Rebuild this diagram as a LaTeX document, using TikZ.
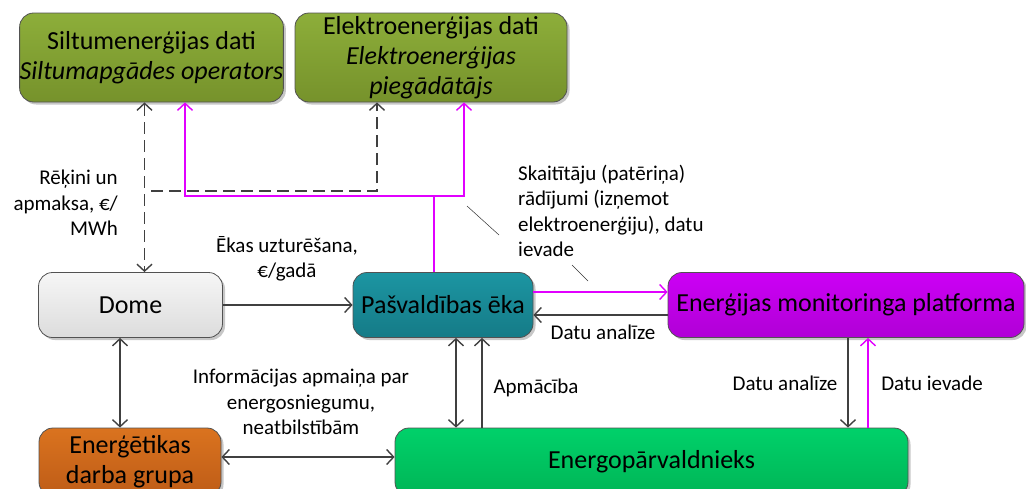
\documentclass[tikz,border=0pt]{standalone}
\usepackage{fontspec}
\setmainfont{Carlito}
\usetikzlibrary{arrows.meta,shadows}

\definecolor{olivetop}{HTML}{8DAE3A}
\definecolor{olivebot}{HTML}{76922B}
\definecolor{grytop}{HTML}{F6F6F6}
\definecolor{grybot}{HTML}{DCDCDC}
\definecolor{tealtop}{HTML}{1C95A2}
\definecolor{tealbot}{HTML}{157B87}
\definecolor{magtop}{HTML}{CC00F5}
\definecolor{magbot}{HTML}{B000D6}
\definecolor{orgtop}{HTML}{DA731F}
\definecolor{orgbot}{HTML}{BE5C17}
\definecolor{grntop}{HTML}{00D16A}
\definecolor{grnbot}{HTML}{00B556}
\definecolor{edgegray}{HTML}{404040}
\definecolor{magline}{HTML}{E100FF}

\tikzset{vtip/.tip={Straight Barb[length=7pt,width=15pt,line width=1.4pt]}}

\begin{document}
\begin{tikzpicture}[x=1pt,y=-1pt,
  box/.style={rounded corners=14pt, draw=black!68, line width=0.8pt,
    minimum width=#1, inner sep=0pt, align=center,
    font=\fontsize{26}{30}\selectfont,
    drop shadow={shadow xshift=2.5pt, shadow yshift=-2.5pt, opacity=0.22, fill=black}},
  garr/.style={draw=edgegray, line width=1.5pt, -vtip},
  gdbl/.style={draw=edgegray, line width=1.5pt, vtip-vtip},
  marr/.style={draw=magline, line width=1.5pt, -vtip},
  dasharr/.style={draw=edgegray, line width=1.5pt, dash pattern=on 12pt off 6pt},
  lbl/.style={font=\fontsize{21}{25.5}\selectfont, inner sep=0pt, text=black},
  leader/.style={draw=black!80, line width=0.5pt}
]
\useasboundingbox (0,0) rectangle (1026,488);

% boxes
\node[box=259pt, minimum height=89pt, top color=olivetop, bottom color=olivebot] (silt) at (151.5,57.5)
  {Siltumenerģijas dati\\\textit{Siltumapgādes operators}};
\node[box=272pt, minimum height=89pt, top color=olivetop, bottom color=olivebot] (elek) at (431,57.5)
  {Elektroenerģijas dati\\\textit{Elektroenerģijas}\\\textit{piegādātājs}};
\node[box=184pt, minimum height=65pt, top color=grytop, bottom color=grybot] (dome) at (130.5,305) {Dome};
\node[box=180pt, minimum height=65pt, top color=tealtop, bottom color=tealbot] (pasv) at (443,305) {Pašvaldības ēka};
\node[box=356pt, minimum height=65pt, top color=magtop, bottom color=magbot] (mon) at (846,305)
  {Enerģijas monitoringa platforma};
\node[box=182pt, minimum height=68pt, top color=orgtop, bottom color=orgbot] (grupa) at (130,462)
  {Enerģētikas\\darba grupa};
\node[box=513pt, minimum height=68pt, top color=grntop, bottom color=grnbot] (energo) at (651.5,462)
  {Energopārvaldnieks};

% invoices and payments (dashed)
\draw[dasharr, vtip-vtip] ([xshift=-7pt]silt.south) -- ([xshift=14pt]dome.north);
\coordinate (dstart) at (151,191);
\draw[dasharr, -vtip] (dstart) -| ([xshift=-54pt]elek.south);

% meter readings (magenta)
\coordinate (mjoin) at (434,196);
\draw[marr] ([xshift=-9pt]pasv.north) -- (mjoin) -| ([xshift=33pt]elek.south);
\draw[marr] (mjoin) -| ([xshift=33.5pt]silt.south);

% horizontal flows
\draw[garr] (dome.east) -- (pasv.west);
\draw[marr] ([yshift=13pt]pasv.east) -- ([yshift=13pt]mon.west);
\draw[garr] ([yshift=-10pt]mon.west) -- ([yshift=-10pt]pasv.east);
\draw[gdbl] ([xshift=-10.5pt]dome.south) -- ([xshift=-10pt]grupa.north);
\draw[gdbl] ([yshift=5pt]grupa.east) -- ([yshift=5pt]energo.west);

% vertical flows
\draw[gdbl] ([xshift=13pt]pasv.south) -- ([xshift=-195.5pt]energo.north);
\draw[garr] ([xshift=-169.5pt]energo.north) -- ([xshift=39pt]pasv.south);
\draw[garr] ([xshift=2pt]mon.south) -- ([xshift=196.5pt]energo.north);
\draw[marr] ([xshift=216.5pt]energo.north) -- ([xshift=22pt]mon.south);

% labels
\node[lbl, align=right, anchor=east] (lrek) at (118,203)
  {Rēķini un\\apmaksa, €/\\MWh};
\node[lbl, align=center] (leka) at (287,259) {Ēkas uzturēšana,\\€/gadā};
\node[lbl, align=left, anchor=west] (lskait) at (518,211)
  {Skaitītāju (patēriņa)\\rādījumi (izņemot\\elektroenerģiju), datu\\ievade};
\coordinate (la1) at (467,206);
\coordinate (la2) at (499,235);
\coordinate (lb1) at (572,265);
\coordinate (lb2) at (588,281);
\draw[leader] (la1) -- (la2);
\draw[leader] (lb1) -- (lb2);
\node[lbl] (lan1) at (603,332) {Datu analīze};
\node[lbl, align=center] (linfo) at (301,402)
  {Informācijas apmaiņa par\\energosniegumu,\\neatbilstībām};
\node[lbl] (lapm) at (536,388) {Apmācība};
\node[lbl] (lan2) at (785,383) {Datu analīze};
\node[lbl] (liev) at (932,383) {Datu ievade};
\end{tikzpicture}
\end{document}
